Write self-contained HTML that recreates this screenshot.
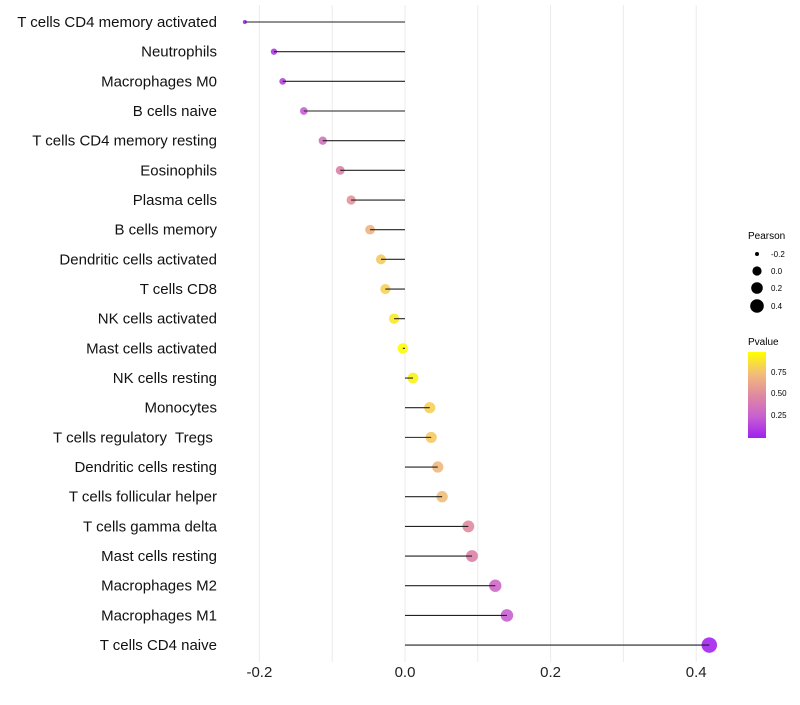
<!DOCTYPE html>
<html><head><meta charset="utf-8"><style>
body{margin:0;background:#fff;font-family:"Liberation Sans",sans-serif}
text{white-space:pre}
</style></head><body>
<svg id="chart" width="800" height="700" xmlns="http://www.w3.org/2000/svg" font-family="Liberation Sans, sans-serif">
<g id="grid"></g><g id="marks"></g><g id="labels"></g><g id="ticks"></g>
<g>
<text x="748" y="239" font-size="10" fill="#000">Pearson</text>
<circle cx="757" cy="254" r="2" fill="#000"/><text x="771" y="257" font-size="8">-0.2</text>
<circle cx="757" cy="271" r="4.6" fill="#000"/><text x="771" y="274" font-size="8">0.0</text>
<circle cx="757" cy="288" r="5.8" fill="#000"/><text x="771" y="291" font-size="8">0.2</text>
<circle cx="757" cy="306" r="6.8" fill="#000"/><text x="771" y="309" font-size="8">0.4</text>
</g>
<g>
<defs><linearGradient id="pg" x1="0" y1="1" x2="0" y2="0">
<stop offset="0" stop-color="#a020f0"/><stop offset="0.25" stop-color="#c860d0"/><stop offset="0.5" stop-color="#e08aa0"/><stop offset="0.75" stop-color="#f2be78"/><stop offset="1" stop-color="#ffff00"/></linearGradient></defs>
<text x="748" y="345" font-size="10">Pvalue</text>
<rect x="748" y="352" width="18" height="86" fill="url(#pg)"/>
<text x="771" y="375" font-size="8">0.75</text>
<text x="771" y="396" font-size="8">0.50</text>
<text x="771" y="418" font-size="8">0.25</text>
</g>
</svg>
<script>
const categories=["T cells CD4 memory activated","Neutrophils","Macrophages M0","B cells naive","T cells CD4 memory resting","Eosinophils","Plasma cells","B cells memory","Dendritic cells activated","T cells CD8","NK cells activated","Mast cells activated","NK cells resting","Monocytes","T cells regulatory  Tregs ","Dendritic cells resting","T cells follicular helper","T cells gamma delta","Mast cells resting","Macrophages M2","Macrophages M1","T cells CD4 naive"];
const pearson=[-0.22,-0.18,-0.168,-0.139,-0.113,-0.089,-0.074,-0.048,-0.033,-0.027,-0.015,-0.003,0.011,0.034,0.036,0.045,0.051,0.087,0.092,0.124,0.14,0.418];
const pvalue=[0.02,0.1,0.15,0.25,0.35,0.45,0.55,0.7,0.8,0.82,0.92,0.99,0.95,0.82,0.8,0.72,0.74,0.5,0.45,0.3,0.25,0.02];
const xTicks=[-0.2,0,0.2,0.4];
const grids=[-0.2,-0.1,0,0.1,0.2,0.3,0.4];
const NS="http://www.w3.org/2000/svg";
const x=v=>405+v*728;
const y=i=>22+i*29.67;
const pmin=Math.min(...pearson),pmax=Math.max(...pearson);
const rad=v=>Math.sqrt(4+Math.pow((v-pmin)/(pmax-pmin),0.8)*(60-4));
const stops=[[0,[160,32,240]],[0.25,[200,96,208]],[0.5,[224,138,160]],[0.75,[242,190,120]],[1,[255,255,0]]];
function col(p){for(let k=1;k<stops.length;k++){if(p<=stops[k][0]){const a=stops[k-1],b=stops[k],t=(p-a[0])/(b[0]-a[0]);return 'rgb('+a[1].map((c,j)=>Math.round(c+(b[1][j]-c)*t)).join(',')+')';}}return 'rgb(255,255,0)';}
function mk(t,at,parent){const e=document.createElementNS(NS,t);for(const k in at)e.setAttribute(k,at[k]);document.getElementById(parent).appendChild(e);return e;}
grids.forEach(g=>{const l=mk('line',{x1:x(g),x2:x(g),y1:5,y2:662,stroke:'#ebebeb','stroke-width':1},'grid');

});
categories.forEach((c,i)=>{
const d=mk('circle',{cx:x(pearson[i]),cy:y(i),r:rad(pearson[i]),fill:col(pvalue[i]),'fill-opacity':0.9},'marks');


const l=mk('line',{x1:x(0),x2:x(pearson[i]),y1:y(i),y2:y(i),stroke:'#222','stroke-width':1.1},'marks');


const t=mk('text',{x:217,y:y(i)+5,'text-anchor':'end','font-size':15,fill:'#111'},'labels');
t.textContent=c;


});
xTicks.forEach(v=>{const t=mk('text',{x:x(v),y:677,'text-anchor':'middle','font-size':15,fill:'#222'},'ticks');
t.textContent=v===0?'0.0':v.toFixed(1);

});
</script>
</body></html>
